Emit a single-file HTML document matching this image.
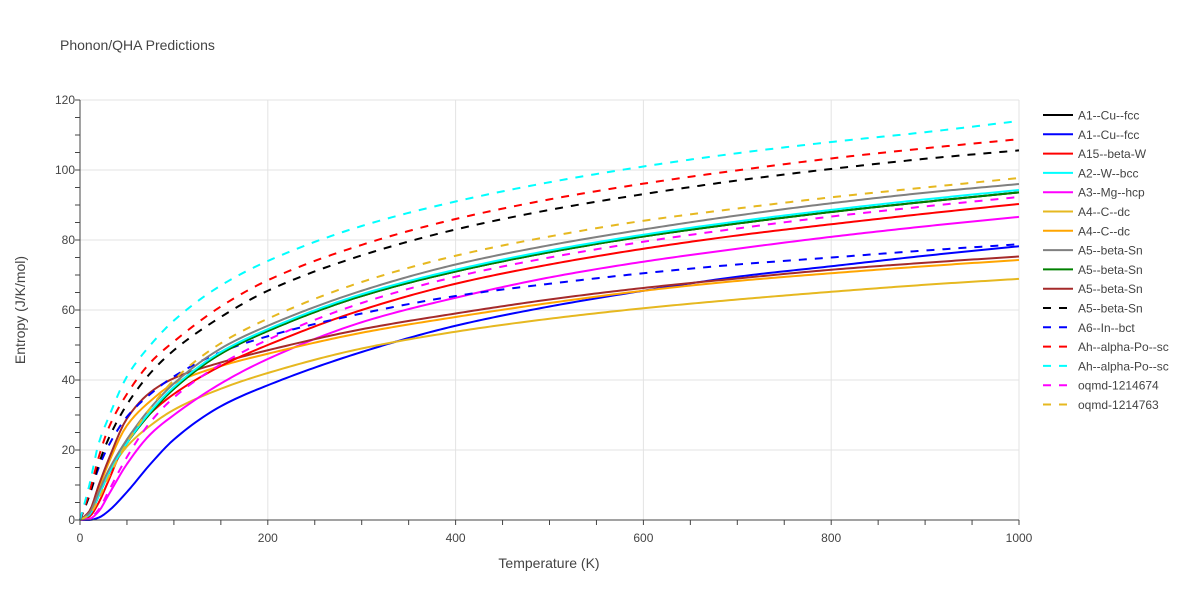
<!DOCTYPE html>
<html><head><meta charset="utf-8"><style>
body{margin:0;background:#fff;font-family:"Liberation Sans",sans-serif;}
</style></head><body>
<svg id="chart" width="1200" height="600" xmlns="http://www.w3.org/2000/svg" font-family="Liberation Sans, sans-serif">
<rect width="1200" height="600" fill="#fff"/>
<text x="60" y="50" font-size="14" fill="#444">Phonon/QHA Predictions</text>
<g id="grid"></g><g id="series"></g><g id="axes"></g><g id="legend"></g>
<text x="549" y="568" font-size="14" fill="#444" text-anchor="middle">Temperature (K)</text>
<text transform="translate(25,310) rotate(-90)" font-size="14" fill="#444" text-anchor="middle">Entropy (J/K/mol)</text>
</svg>
<script>
const temps=[0,10,20,30,50,75,100,150,200,300,400,500,600,700,800,900,1000];
const names=["A1--Cu--fcc","A1--Cu--fcc","A15--beta-W","A2--W--bcc","A3--Mg--hcp","A4--C--dc","A4--C--dc","A5--beta-Sn","A5--beta-Sn","A5--beta-Sn","A5--beta-Sn","A6--In--bct","Ah--alpha-Po--sc","Ah--alpha-Po--sc","oqmd-1214674","oqmd-1214763"];
const colors=["#000","#0000ff","#ff0000","#00ffff","#ff00ff","#e6b820","#ffa500","#808080","#008000","#a52a2a","#000","#0000ff","#ff0000","#00ffff","#ff00ff","#e6b820"];
const dashed=[0,0,0,0,0,0,0,0,0,0,1,1,1,1,1,1];
const sA1a=[0,1.5,7,13,22,30.5,37.5,47.5,54,64,71,76.5,81,84.7,88,90.9,93.6];
const sA1b=[0,0,0.7,2.5,8,16,23,32.5,38.5,48,55.5,61,65.5,69.5,72.5,75.5,78.2];
const sA15=[0,1,5,11,23,30.5,36,44,50,60,67.5,73,77.5,81.3,84.5,87.5,90.3];
const sA2=[0,1.5,7,13,22,31,38,48,54.5,64.5,71.5,77,81.5,85.3,88.6,91.6,94.3];
const sA3=[0,0.3,2.5,7,16,24.5,30,39,46,56.5,63.5,69.3,73.8,77.5,80.9,83.9,86.6];
const sA4a=[0,1.5,7,13,21,27,31.5,37.5,42,49,53.8,57.5,60.5,63,65.2,67.2,68.9];
const sA4b=[0,2,9,16,27,34,39,44,47.5,53.5,58,62,65.5,68.3,70.5,72.5,74.3];
const sA5a=[0,2,8,14,23,32,39,49,55.5,65.5,73,78.5,83,87,90.5,93.5,96];
const sA5b=[0,1.5,7,13,22,30.5,37.5,47.5,54,64,71,76.5,81,84.7,88,90.9,93.6];
const sA5c=[0,2.5,10,17,29,36.5,40.5,45,48.5,54.5,59,63,66.3,69,71.5,73.5,75.3];
const sA5d=[0,7,16,23,33,42,48.5,58,65.5,75.6,83,88.6,93.1,97,100.3,103.2,105.6];
const sA6=[0,7,15,21,29.5,36,41,48,52.5,59,64,67.5,70.5,73,75,77,78.8];
const sAha=[0,8,18,26,36,45,51,61,68.5,78.6,86,91.6,96.1,99.9,103.3,106.2,108.8];
const sAhb=[0,10,22,29,41,50,57,67,74,84,91,96.5,101,104.8,108,110.8,114];
const sO1=[0,0.5,3,8,18,28,35,44.5,51.5,62,69.5,75,79.5,83.3,86.7,89.6,92.3];
const sO2=[0,1.5,6,12,22,32,40,50.5,57.5,68,75.5,81,85.5,89,92.2,95,97.7];
const allSeries=[sA1a,sA1b,sA15,sA2,sA3,sA4a,sA4b,sA5a,sA5b,sA5c,sA5d,sA6,sAha,sAhb,sO1,sO2];
const xTicks=[0,200,400,600,800,1000];
const yTicks=[0,20,40,60,80,100,120];
const NS="http://www.w3.org/2000/svg";
const X0=80,X1=1019,Y0=520,Y1=100;
const xs=t=>X0+(X1-X0)*t/1000, ys=v=>Y0-(Y0-Y1)*v/120;
function mk(tag,attrs,parent){const e=document.createElementNS(NS,tag);for(const k in attrs)e.setAttribute(k,attrs[k]);parent.appendChild(e);return e;}
const grid=document.getElementById('grid'),axes=document.getElementById('axes'),ser=document.getElementById('series'),leg=document.getElementById('legend');
xTicks.forEach(t=>{if(t>0){const l=mk('line',{x1:xs(t),x2:xs(t),y1:Y1,y2:Y0,stroke:'#e3e3e3','stroke-width':1},grid);

}
const tx=mk('text',{x:xs(t),y:Y0+22,'font-size':12,fill:'#444','text-anchor':'middle'},axes);tx.textContent=t;

});
for(let t=0;t<=1000;t+=50){mk('line',{x1:xs(t),x2:xs(t),y1:Y0,y2:Y0+5,stroke:'#444'},axes);}
yTicks.forEach(v=>{if(v>0){const l=mk('line',{x1:X0,x2:X1,y1:ys(v),y2:ys(v),stroke:'#e3e3e3','stroke-width':1},grid);

}
const tx=mk('text',{x:X0-5,y:ys(v)+4,'font-size':12,fill:'#444','text-anchor':'end'},axes);tx.textContent=v;

});
for(let v=0;v<=120;v+=5){mk('line',{x1:X0-5,x2:X0,y1:ys(v),y2:ys(v),stroke:'#444'},axes);}
mk('line',{x1:X0,x2:X1,y1:Y0,y2:Y0,stroke:'#444'},axes);
mk('line',{x1:X0,x2:X0,y1:Y1,y2:Y0,stroke:'#444'},axes);
// monotone cubic (Fritsch-Carlson) in data space
function pathFor(arr){const n=temps.length,h=[],d=[],m=new Array(n);
for(let i=0;i<n-1;i++){h[i]=temps[i+1]-temps[i];d[i]=(arr[i+1]-arr[i])/h[i];}
m[0]=d[0];m[n-1]=d[n-2];
for(let i=1;i<n-1;i++){if(d[i-1]*d[i]<=0)m[i]=0;else{const w1=2*h[i]+h[i-1],w2=h[i]+2*h[i-1];m[i]=(w1+w2)/(w1/d[i-1]+w2/d[i]);}}
let s=`M${xs(temps[0])},${ys(arr[0])}`;
for(let i=0;i<n-1;i++){const steps=Math.max(4,Math.round(h[i]/4));
for(let k=1;k<=steps;k++){const t=k/steps,hh=h[i],t2=t*t,t3=t2*t;
const v=(2*t3-3*t2+1)*arr[i]+(t3-2*t2+t)*hh*m[i]+(-2*t3+3*t2)*arr[i+1]+(t3-t2)*hh*m[i+1];
s+=` L${xs(temps[i]+t*hh).toFixed(2)},${ys(v).toFixed(2)}`;}}
return s;}
const order=[1,5,4,6,9,2,14,11,0,8,3,7,15,10,12,13];
order.forEach(i=>{const pth=mk('path',{d:pathFor(allSeries[i]),fill:'none',stroke:colors[i],'stroke-width':2,'stroke-linejoin':'round'},ser);
if(dashed[i])pth.setAttribute('stroke-dasharray','8,8');

});
names.forEach((n,i)=>{const y=115+i*19.3;const g=mk('g',{},leg);


const l=mk('line',{x1:1043,x2:1073,y1:y,y2:y,stroke:colors[i],'stroke-width':2},g);if(dashed[i])l.setAttribute('stroke-dasharray','8,8');
const t=mk('text',{x:1078,y:y+4.5,'font-size':12,fill:'#444'},g);t.textContent=n;});
</script>
</body></html>
